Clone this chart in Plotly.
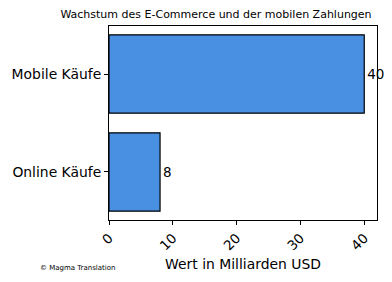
import plotly.graph_objects as go

categories = ["Online Käufe", "Mobile Käufe"]
values = [8, 40]
x_ticks = [0, 10, 20, 30, 40]

fig = go.Figure(go.Bar(
    y=categories, x=values, orientation="h",
    marker=dict(color="#4a90e2", line=dict(color="black", width=1.2)),
    width=0.8,
    text=[str(v) for v in values], textposition="outside",
    textfont=dict(size=13.5, color="black"), cliponaxis=False,
))

fig.update_layout(
    width=392, height=282,
    margin=dict(l=109, r=15, t=26, b=62),
    plot_bgcolor="white", paper_bgcolor="white",
    font=dict(family="DejaVu Sans", color="black"),
    showlegend=False,
    title=dict(text="Wachstum des E-Commerce und der mobilen Zahlungen",
               font=dict(size=11), x=216/392, xanchor="center", y=1-14/282, yanchor="middle"),
    xaxis=dict(range=[0, 42], tickvals=x_ticks, tickangle=-45, ticks="outside", ticklen=4,
               tickcolor="black", showline=True, linecolor="black", linewidth=1, mirror=True,
               showgrid=False, zeroline=False, tickfont=dict(size=13.5),
               title=dict(text="Wert in Milliarden USD", font=dict(size=13.9), standoff=6)),
    yaxis=dict(range=[-0.49, 1.49], ticks="outside", ticklen=4, tickcolor="black",
               showline=True, linecolor="black", linewidth=1, mirror=True,
               showgrid=False, zeroline=False, tickfont=dict(size=13.9)),
    annotations=[dict(text="© Magma Translation", x=(38-109)/268, y=-(268-220)/194,
                      xref="paper", yref="paper",
                      xanchor="left", yanchor="middle", showarrow=False, font=dict(size=7))],
)

fig.write_html("out.html")
